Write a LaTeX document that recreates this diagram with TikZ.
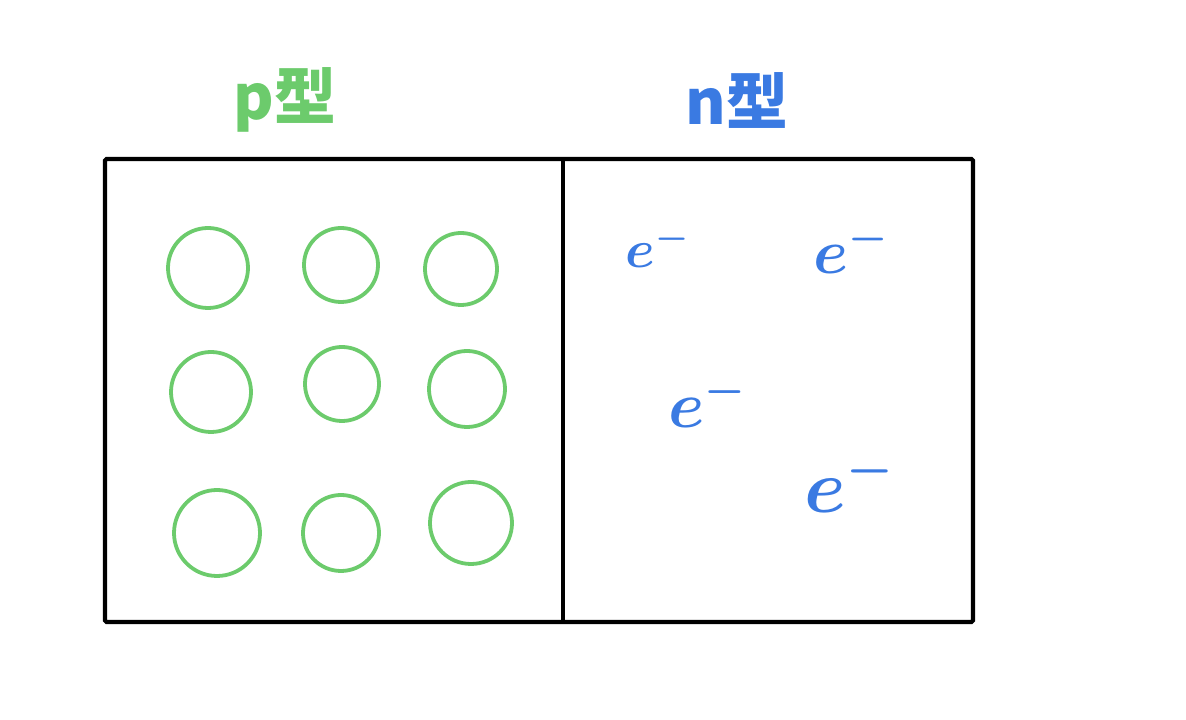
\documentclass[tikz,border=0pt]{standalone}
\usepackage{fontspec}
\newfontfamily\cjk{Noto Sans CJK SC}
\definecolor{pgreen}{RGB}{108,203,108}
\definecolor{nblue}{RGB}{58,122,226}
\tikzset{
	hole/.style={draw=pgreen, line width=2.7pt},
	elec/.style={text=nblue, font=\LARGE\boldmath, inner sep=0pt},
	typelabel/.style={font=\cjk\bfseries\fontsize{44}{50}\selectfont}
}

\begin{document}
\begin{tikzpicture}[x=0.025cm, y=-0.025cm]
			%%%%% START %%%%%
			\useasboundingbox (0, 0) rectangle (1186, 720);
			
			\node[typelabel, text=pgreen] (ptype) at (285, 100) {p型};
			\node[typelabel, text=nblue] (ntype) at (737, 100) {n型};
			
			\draw[line width=2.9pt, rounded corners=1pt] (105, 159) rectangle (973, 622);
			\draw[line width=2.9pt] (563, 159) -- (563, 622);
			
			\draw[hole] (208, 268) circle (40);
			\draw[hole] (341, 265) circle (37);
			\draw[hole] (461, 269) circle (36);
			
			\draw[hole] (211, 392) circle (40);
			\draw[hole] (342, 384) circle (37);
			\draw[hole] (467, 389) circle (38);
			
			\draw[hole] (217, 533) circle (43);
			\draw[hole] (341, 533) circle (38);
			\draw[hole] (471, 523) circle (41);
			
			\node[elec, scale=2.2] (e1) at (658, 246) {$e^-$};
			\node[elec, scale=2.6] (e2) at (852, 248) {$e^-$};
			\node[elec, scale=2.7] (e3) at (708, 401) {$e^-$};
			\node[elec, scale=3.1] (e4) at (850, 482) {$e^-$};
			
			%%%%% END %%%%%
\end{tikzpicture}
\end{document}
